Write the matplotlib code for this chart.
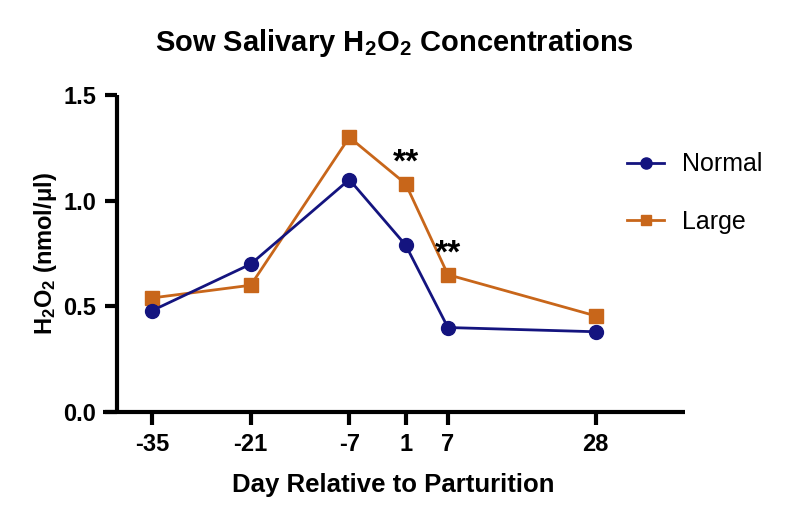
import matplotlib
matplotlib.use("Agg")
from matplotlib import pyplot as plt

# Data
days = [-35, -21, -7, 1, 7, 28]
normal = [0.48, 0.70, 1.10, 0.79, 0.40, 0.38]
large = [0.54, 0.60, 1.30, 1.08, 0.65, 0.455]
signif_days = [1, 7]
signif_marks = ["**", "**"]
y_ticks = [0.0, 0.5, 1.0, 1.5]

plt.rcParams['font.family'] = ['Liberation Sans', 'DejaVu Sans']
plt.rcParams['mathtext.fontset'] = 'custom'
plt.rcParams['mathtext.rm'] = 'Liberation Sans:bold'
plt.rcParams['mathtext.it'] = 'Liberation Sans:bold'
plt.rcParams['mathtext.bf'] = 'Liberation Sans:bold'

navy = '#14147f'
orange = '#c8661a'

fig = plt.figure(figsize=(7.85, 5.19), dpi=100)
ax = fig.add_axes([0.131, 0.206, 0.741, 0.611])

# Series
ln_n, = ax.plot(days, normal, color=navy, lw=2, marker='o', ms=10, label='Normal', zorder=3)
ln_l, = ax.plot(days, large, color=orange, lw=2, marker='s', ms=9.5, label='Large', zorder=2)

# Significance marks above the Large series
for d, m in zip(signif_days, signif_marks):
    v = large[days.index(d)]
    ax.annotate(m, (d, v), xytext=(0, 4), textcoords='offset points',
                ha='center', va='bottom', fontsize=24, fontweight='bold')

# Axes styling, Prism-like
ax.set_xlim(-42, 40.6)
ax.set_ylim(0, 1.5)
ax.spines['left'].set_position(('data', -40))
for s in ('top', 'right'):
    ax.spines[s].set_visible(False)
for s in ('left', 'bottom'):
    ax.spines[s].set_linewidth(3)
    ax.spines[s].set_capstyle('butt')

ax.set_xticks(days)
ax.set_xticklabels([str(d) for d in days])
ax.set_yticks(y_ticks)
ax.set_yticklabels(['%.1f' % t for t in y_ticks])
ax.tick_params(axis='both', width=3, length=9, labelsize=17, pad=6)
for lbl in ax.get_xticklabels() + ax.get_yticklabels():
    lbl.set_fontweight('bold')

ax.set_xlabel('Day Relative to Parturition', fontsize=18.5, fontweight='bold', labelpad=12)
ax.set_ylabel(r'H$_2$O$_2$ (nmol/$\mu$l)', fontsize=17, fontweight='bold', labelpad=3)

fig.text(0.503, 0.918, r'Sow Salivary H$_2$O$_2$ Concentrations', ha='center', va='center',
         fontsize=21, fontweight='bold')

# Legend to the right of the plot
fig.legend(handles=[ln_n, ln_l], loc='upper left', bbox_to_anchor=(0.77, 0.75),
           frameon=False, fontsize=18, handlelength=1.5, labelspacing=1.35,
           handletextpad=0.7, markerscale=0.8)

fig.savefig('out.png', dpi=100)
